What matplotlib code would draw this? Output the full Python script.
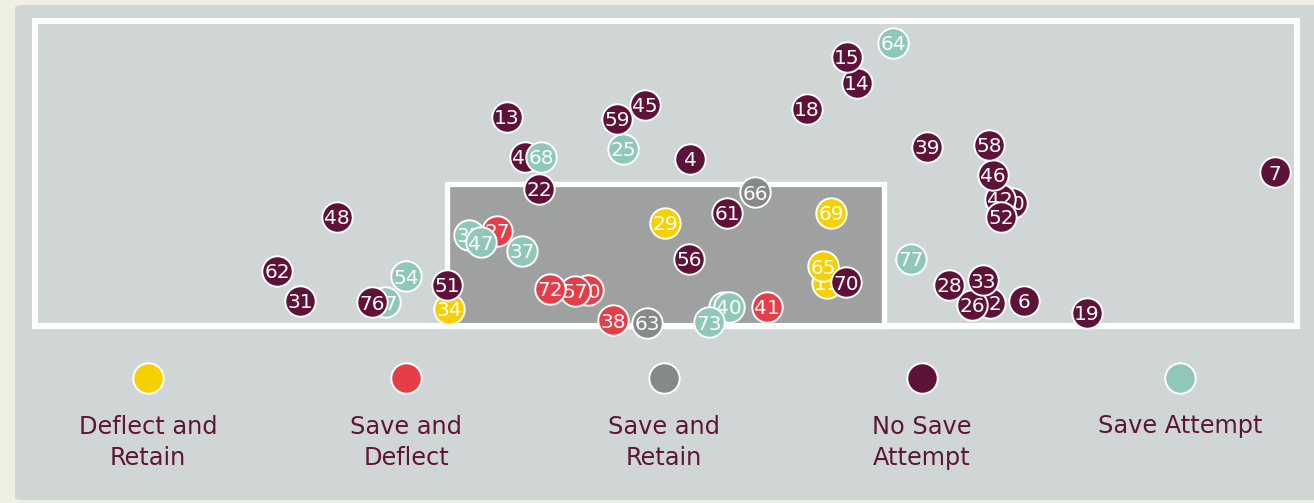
"""
Shot map on the goal face: where each shot crossed the goal line and what the keeper did.
"""

import matplotlib

matplotlib.use("Agg")
import matplotlib.pyplot as plt
from matplotlib.patches import FancyBboxPatch, Rectangle

# Goal frame and keeper box, in goal units (0, 0 = bottom-left post)
FRAME_W, FRAME_H = 126.2, 30.5
BOX_X0, BOX_X1, BOX_H = 41.2, 84.9, 14.2

# Outcome categories, legend order
outcomes = ["deflect_retain", "save_deflect", "save_retain", "no_save", "save_attempt"]
outcome_labels = [
    "Deflect and\nRetain",
    "Save and\nDeflect",
    "Save and\nRetain",
    "No Save\nAttempt",
    "Save Attempt",
]
outcome_colors = ["#f7d000", "#e63e48", "#858987", "#5f1239", "#8fc8b8"]

# Shots: id, x across goal, y height, outcome
shot_ids = [
    13, 45, 59, 15, 14, 18, 4, 43, 22, 39, 58, 46, 20, 42, 52, 7, 48, 62, 31, 76,
    51, 61, 56, 70, 28, 33, 12, 26, 6, 19,
    64, 68, 25, 35, 47, 37, 54, 67, 77, 30, 40, 73,
    27, 72, 57, 50, 38, 41,
    66, 63,
    29, 69, 65, 11, 34,
]
shot_x = [
    47.2, 61.0, 58.2, 81.2, 82.2, 77.2, 65.5, 49.0, 50.4, 89.2, 95.4, 95.8, 97.7, 96.5,
    96.6, 124.0, 30.2, 24.2, 26.5, 33.7, 41.2, 69.2, 65.4, 81.1, 91.4, 94.8, 95.5, 93.7,
    98.9, 105.2,
    85.8, 50.6, 58.8, 43.4, 44.6, 48.7, 37.1, 35.0, 87.6, 68.9, 69.4, 67.4,
    46.2, 51.5, 54.0, 55.3, 57.8, 73.2,
    72.0, 61.2,
    63.0, 79.6, 78.8, 79.2, 41.4,
]
shot_y = [
    20.9, 22.1, 20.7, 26.9, 24.3, 21.7, 16.7, 16.9, 13.7, 17.9, 18.1, 15.1, 12.3, 12.7,
    10.9, 15.4, 10.9, 5.5, 2.5, 2.4, 4.1, 11.3, 6.7, 4.4, 4.1, 4.6, 2.3, 2.1,
    2.5, 1.3,
    28.3, 16.9, 17.7, 9.1, 8.4, 7.5, 5.0, 2.4, 6.7, 1.9, 1.9, 0.4,
    9.5, 3.7, 3.5, 3.6, 0.6, 1.9,
    13.4, 0.3,
    10.3, 11.3, 6.0, 4.3, 1.7,
]
shot_outcome = (
    ["no_save"] * 30
    + ["save_attempt"] * 12
    + ["save_deflect"] * 6
    + ["save_retain"] * 2
    + ["deflect_retain"] * 5
)


def plot_shot_map():
    """Draw the goal-face shot map and save it to out.png."""
    fig = plt.figure(figsize=(13.14, 5.03), dpi=100)
    fig.patch.set_facecolor("#efefe4")

    # Rounded grey card behind everything
    card = FancyBboxPatch(
        (15 / 1314, 3 / 503),
        1.2,
        (498 - 3) / 503,
        boxstyle="round,pad=0,rounding_size=0.006",
        transform=fig.transFigure,
        facecolor="#d0d6d6",
        edgecolor="none",
        zorder=-10,
    )
    fig.patches.append(card)

    ax = fig.add_axes([0, 0, 1, 1])
    ax.set_xlim(-3.5, 127.9)
    ax.set_ylim(-17.7, 32.6)
    ax.axis("off")

    # Goal frame and keeper box
    ax.add_patch(
        Rectangle((BOX_X0, 0), BOX_X1 - BOX_X0, BOX_H, facecolor="#9ea1a0",
                  edgecolor="white", linewidth=3.8, zorder=1)
    )
    ax.add_patch(
        Rectangle((0, 0), FRAME_W, FRAME_H, facecolor="none",
                  edgecolor="white", linewidth=4.4, zorder=2)
    )

    color_of = dict(zip(outcomes, outcome_colors))

    # Later shots sit on top of earlier ones
    order = sorted(range(len(shot_ids)), key=lambda i: shot_ids[i])
    for k, i in enumerate(order):
        z = 10 + 2 * k
        ax.scatter(shot_x[i], shot_y[i], s=480, color=color_of[shot_outcome[i]],
                   edgecolor="white", linewidth=1.4, zorder=z)
        ax.text(shot_x[i], shot_y[i], str(shot_ids[i]), color="white", fontsize=14.5,
                ha="center", va="center_baseline", zorder=z + 1)

    # Legend row under the goal
    legend_x = [11.3, 37.1, 62.9, 88.7, 114.5]
    for lx, label, color in zip(legend_x, outcome_labels, outcome_colors):
        ax.scatter(lx, -5.2, s=480, color=color, edgecolor="white", linewidth=1.4,
                   zorder=5)
        ax.text(lx, -8.85, label, color="#5e1438", fontsize=17.3, ha="center",
                va="top", linespacing=1.42, zorder=5)

    fig.savefig("out.png", dpi=100, facecolor=fig.get_facecolor())
    return fig, ax


if __name__ == "__main__":
    plot_shot_map()
